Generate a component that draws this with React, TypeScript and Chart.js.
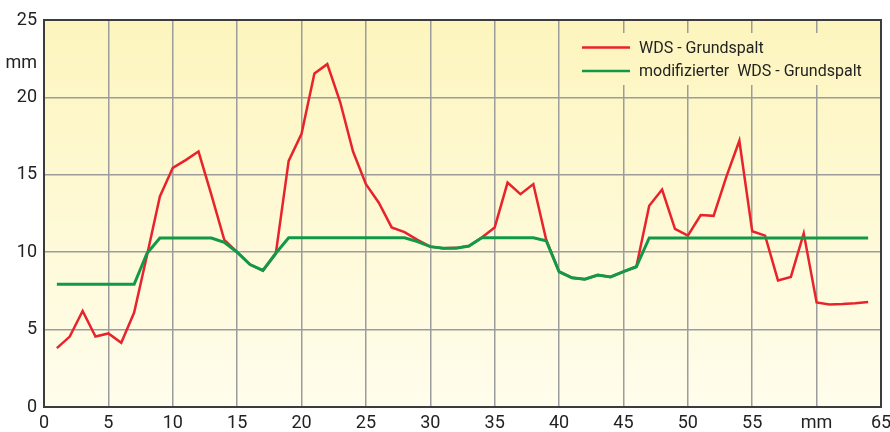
import React, { useEffect, useRef } from "react";
import { Chart, registerables } from "chart.js";

Chart.register(...registerables);

const positions = [1,2,3,4,5,6,7,8,9,10,11,12,13,14,15,16,17,18,19,20,21,22,23,24,25,26,27,28,29,30,31,32,33,34,35,36,37,38,39,40,41,42,43,44,45,46,47,48,49,50,51,52,53,54,55,56,57,58,59,60,61,62,63,64];

const wdsGrundspalt = [3.8,4.55,6.2,4.55,4.75,4.15,6.1,9.8,13.6,15.45,15.95,16.5,13.7,10.8,10.0,9.2,8.8,9.9,15.9,17.65,21.55,22.15,19.7,16.5,14.4,13.2,11.6,11.3,10.8,10.36,10.26,10.28,10.4,10.95,11.6,14.5,13.75,14.4,10.8,8.74,8.35,8.25,8.53,8.4,8.74,9.06,13.0,14.05,11.5,11.07,12.4,12.35,14.9,17.2,11.35,11.07,8.18,8.4,11.22,6.75,6.62,6.65,6.7,6.78];

const modifizierterGrundspalt = [7.93,7.93,7.93,7.93,7.93,7.93,7.93,9.93,10.92,10.92,10.92,10.92,10.92,10.64,10.0,9.2,8.82,9.93,10.93,10.93,10.93,10.93,10.93,10.93,10.93,10.93,10.93,10.93,10.68,10.36,10.25,10.25,10.4,10.93,10.93,10.93,10.93,10.93,10.74,8.74,8.35,8.25,8.53,8.4,8.74,9.06,10.92,10.92,10.92,10.92,10.92,10.92,10.92,10.92,10.92,10.92,10.92,10.92,10.92,10.92,10.92,10.92,10.92,10.92];

const seriesLabels = ["WDS - Grundspalt", "modifizierter  WDS - Grundspalt"];
const xTicks = [0, 5, 10, 15, 20, 25, 30, 35, 40, 45, 50, 55, 60, 65];
const xUnitTick = 60;
const yTicks = [0, 5, 10, 15, 20, 25];
const yUnitTick = 22.2;
const unitLabel = "mm";

const FONT = "Roboto, 'Open Sans', sans-serif";

const bgPlugin = {
  id: "bgPlugin",
  beforeDraw(chart: any) {
    const { ctx, chartArea: a } = chart;
    const g = ctx.createLinearGradient(0, a.top, 0, a.bottom);
    g.addColorStop(0, "#fdf5bd");
    g.addColorStop(1, "#fffdec");
    ctx.save();
    ctx.fillStyle = g;
    ctx.fillRect(a.left, a.top, a.right - a.left, a.bottom - a.top);
    ctx.restore();
  },
  beforeDatasetsDraw(chart: any) {
    const { ctx, chartArea: a } = chart;
    const g = ctx.createLinearGradient(0, a.top, 0, a.bottom);
    g.addColorStop(0, "#fdf5bd");
    g.addColorStop(1, "#fffdec");
    ctx.save();
    ctx.fillStyle = g;
    ctx.fillRect(572, 33, a.right - 572 - 1, 52);
    ctx.restore();
  },
  afterDatasetsDraw(chart: any) {
    const { ctx, chartArea: a } = chart;
    ctx.save();
    ctx.strokeStyle = "#3c3c3c";
    ctx.lineWidth = 2;
    ctx.strokeRect(a.left, a.top, a.right - a.left, a.bottom - a.top);
    const items = chart.data.datasets;
    const rows = [47.5, 71];
    ctx.font = "16px " + FONT;
    ctx.textBaseline = "middle";
    ctx.textAlign = "left";
    items.forEach((ds: any, i: number) => {
      const y = rows[i];
      ctx.strokeStyle = ds.borderColor;
      ctx.lineWidth = 2.5;
      ctx.beginPath();
      ctx.moveTo(582, y);
      ctx.lineTo(630, y);
      ctx.stroke();
      ctx.fillStyle = "#222";
      ctx.fillText(ds.label, 639, y + 1);
    });
    ctx.restore();
  },
};

export default function App() {
  const ref = useRef<HTMLCanvasElement>(null);
  useEffect(() => {
    if (!ref.current) return;
    const chart = new Chart(ref.current, {
      type: "line",
      data: {
        datasets: [
          {
            label: seriesLabels[0],
            data: positions.map((x, i) => ({ x, y: wdsGrundspalt[i] })),
            borderColor: "#e8232b",
            borderWidth: 2.5,
            pointRadius: 0,
            fill: false,
            tension: 0,
            order: 1,
          },
          {
            label: seriesLabels[1],
            data: positions.map((x, i) => ({ x, y: modifizierterGrundspalt[i] })),
            borderColor: "#109a48",
            borderWidth: 3,
            pointRadius: 0,
            fill: false,
            tension: 0,
            order: 0,
          },
        ],
      },
      options: {
        animation: false,
        responsive: true,
        maintainAspectRatio: false,
        layout: { padding: { top: 20, right: 9, left: 0, bottom: 0 } },
        plugins: { legend: { display: false }, tooltip: { enabled: false } },
        scales: {
          x: {
            type: "linear",
            min: 0,
            max: 65,
            afterBuildTicks: (s: any) => {
              s.ticks = xTicks.map((v) => ({ value: v }));
            },
            afterFit: (s: any) => {
              s.height = 25;
              s.paddingLeft = 0;
              s.paddingRight = 0;
            },
            ticks: {
              padding: 6,
              maxRotation: 0,
              autoSkip: false,
              color: "#222",
              font: { size: 18, family: FONT },
              callback: (v: any) => (v === xUnitTick ? unitLabel : String(v)),
            },
            grid: { color: "#9c9c9c", lineWidth: 1.5, drawTicks: false },
            border: { display: false },
          },
          y: {
            type: "linear",
            min: 0,
            max: 25,
            afterBuildTicks: (s: any) => {
              s.ticks = [...yTicks, yUnitTick].sort((a, b) => a - b).map((v) => ({ value: v }));
            },
            afterFit: (s: any) => {
              s.width = 44;
              s.paddingTop = 0;
              s.paddingBottom = 0;
            },
            ticks: {
              padding: 7,
              autoSkip: false,
              color: "#222",
              font: { size: 18, family: FONT },
              callback: (v: any) => (v === yUnitTick ? unitLabel : String(v)),
            },
            grid: {
              color: (c: any) => (c.tick && c.tick.value === yUnitTick ? "rgba(0,0,0,0)" : "#9c9c9c"),
              lineWidth: 1.5,
              drawTicks: false,
            },
            border: { display: false },
          },
        },
      },
      plugins: [bgPlugin],
    });
    return () => chart.destroy();
  }, []);
  return (
    <div style={{ position: "fixed", left: 0, top: 0, width: 890, height: 432, background: "#fff" }}>
      <canvas ref={ref} />
    </div>
  );
}
